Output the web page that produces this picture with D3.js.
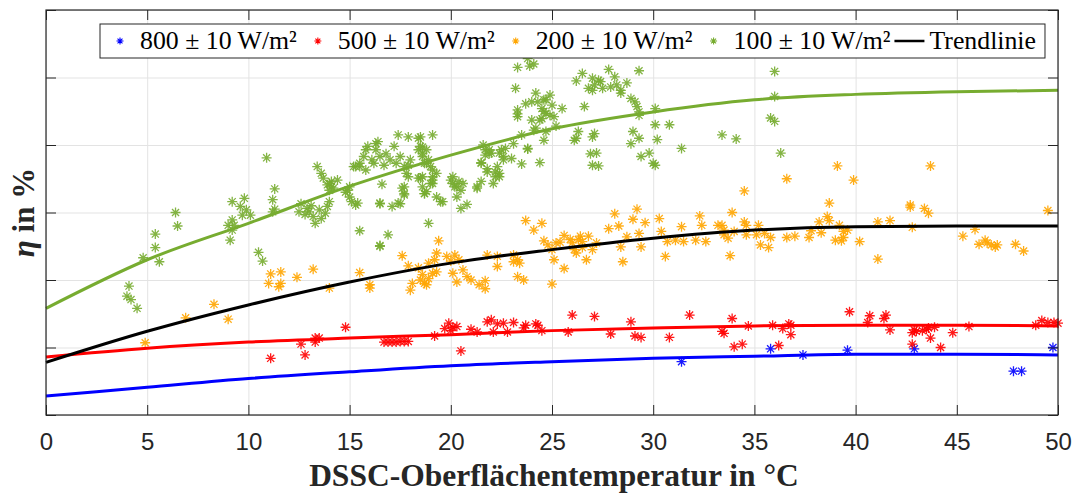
<!DOCTYPE html>
<html>
<head>
<meta charset="utf-8">
<script src="https://d3js.org/d3.v7.min.js"></script>
<style>
  body { margin: 0; background: #fff; }
</style>
</head>
<body>
<svg id="chart" width="1077" height="493"></svg>
<script>
  "use strict";

  // ---- data (temperature in °C, efficiency in axis units) ----
  const xTicks = [0, 5, 10, 15, 20, 25, 30, 35, 40, 45, 50];
  const yTicks = [0, 1, 2, 3, 4, 5, 6];
  const legendLabels = ["800 ± 10 W/m²", "500 ± 10 W/m²", "200 ± 10 W/m²", "100 ± 10 W/m²", "Trendlinie"];

  const trendT = [0, 5, 10, 15, 20, 25, 30, 35, 40, 45, 50];
  const trend800 = [0.28, 0.41, 0.54, 0.64, 0.73, 0.79, 0.84, 0.87, 0.90, 0.90, 0.89];
  const trend500 = [0.86, 0.99, 1.08, 1.14, 1.19, 1.25, 1.29, 1.32, 1.33, 1.33, 1.32];
  const trend200 = [0.78, 1.24, 1.63, 1.97, 2.25, 2.45, 2.62, 2.74, 2.79, 2.80, 2.80];
  const trend100 = [1.58, 2.30, 2.84, 3.39, 3.85, 4.24, 4.49, 4.67, 4.75, 4.79, 4.81];

  const pts800 = [[31.4,0.79],[35.8,0.98],[37.4,0.89],[39.6,0.96],[42.9,0.98],[47.8,0.65],[48.2,0.65],[49.75,1.0]];

  const pts500 = [[11.1,0.84],[12.6,1.05],[12.8,0.89],[13.3,1.14],[13.5,1.14],[13.3,1.08],[14.8,1.30],[16.7,1.08],[16.9,1.08],
    [17.1,1.08],[17.3,1.08],[17.5,1.09],[17.7,1.09],[17.9,1.09],[19.2,1.17],[19.7,1.28],[19.9,1.36],[20.1,1.30],[20.3,1.31],
    [20.0,1.25],[20.5,0.95],[21.0,1.27],[21.3,1.23],[21.8,1.38],[22.0,1.41],[22.1,1.23],[22.3,1.35],[22.6,1.36],[22.8,1.23],
    [23.1,1.37],[23.6,1.29],[23.7,1.33],[24.2,1.35],[24.3,1.33],[24.5,1.25],[25.8,1.23],[26.0,1.48],[27.1,1.46],[27.9,1.20],
    [28.9,1.38],[29.1,1.17],[29.4,1.15],[30.8,1.15],[31.8,1.48],[33.4,1.24],[33.5,1.21],[33.9,1.43],[34.0,1.01],[34.4,1.05],
    [34.7,1.32],[35.9,1.33],[36.2,1.03],[36.4,1.28],[36.7,1.35],[36.8,1.33],[36.8,1.19],[39.7,1.53],[40.6,1.37],[40.7,1.47],
    [41.4,1.43],[41.5,1.48],[41.7,1.26],[42.8,1.22],[42.9,1.26],[43.0,1.24],[43.3,1.25],[43.5,1.27],[43.6,1.29],[42.8,1.05],
    [43.7,1.14],[43.9,1.30],[44.2,1.00],[44.8,1.22],[45.6,1.31],[48.9,1.33],[49.2,1.40],[49.5,1.37],[49.8,1.37],[50.0,1.36]];

  const pts200 = [[4.9,1.07],[6.9,1.44],[8.3,1.64],[9.0,1.42],[11.0,1.95],[11.1,2.09],[11.5,1.90],[11.6,1.95],[11.6,2.12],
    [12.4,2.04],[13.2,2.16],[14.0,1.88],[15.5,2.11],[16.0,1.93],[16.0,1.88],[17.6,2.36],[17.9,2.21],[18.1,1.95],[18.0,1.85],
    [18.4,2.18],[18.6,2.08],[18.7,1.95],[18.9,2.02],[19.1,2.10],[18.9,2.25],[19.2,2.30],[19.3,2.12],[18.5,2.00],[18.8,1.93],
    [19.3,2.40],[19.4,2.58],[19.8,2.35],[20.0,2.28],[20.1,2.10],[20.3,1.97],[20.2,2.37],[20.4,2.30],[20.6,2.15],[20.8,2.05],
    [21.0,2.00],[21.4,1.93],[21.7,1.99],[21.7,1.87],[21.8,2.37],[22.3,2.35],[22.3,2.20],[23.1,2.37],[23.1,2.27],[23.3,2.30],
    [23.4,2.25],[23.3,2.05],[23.6,2.00],[23.7,2.88],[24.1,2.74],[24.5,2.84],[24.6,2.58],[24.8,2.52],[25.0,2.45],[25.2,2.55],
    [25.4,2.56],[25.0,1.94],[25.1,2.30],[25.6,2.17],[25.6,2.66],[25.9,2.60],[26.0,2.55],[26.1,2.45],[26.2,2.40],[26.3,2.60],
    [26.4,2.65],[26.5,2.57],[26.5,2.48],[26.7,2.30],[26.8,2.65],[27.0,2.45],[27.2,2.55],[27.8,2.76],[28.1,2.98],[28.3,2.80],
    [28.4,2.49],[28.5,2.27],[28.7,2.64],[29.0,2.90],[29.2,3.05],[29.3,2.69],[29.4,2.49],[29.6,2.85],[30.3,2.91],[30.4,2.72],
    [30.6,2.35],[30.7,2.57],[31.1,2.59],[31.4,2.79],[31.5,2.57],[32.1,2.59],[32.3,2.95],[32.4,2.81],[32.6,2.57],[33.2,2.81],
    [33.4,2.81],[33.5,2.74],[33.5,2.67],[33.7,2.62],[33.8,2.36],[33.9,3.00],[34.0,2.72],[34.5,3.32],[34.5,2.86],[34.6,2.81],
    [34.6,2.67],[35.1,2.67],[35.2,2.81],[35.3,2.52],[35.5,2.69],[35.7,2.48],[35.8,2.63],[36.6,3.50],[36.6,2.63],[37.0,2.65],
    [37.7,2.63],[37.8,2.73],[38.2,2.86],[38.3,2.70],[38.6,2.94],[38.7,2.88],[38.7,3.14],[39.1,3.69],[39.0,2.59],[39.2,2.81],
    [39.3,2.58],[39.4,2.72],[39.6,2.74],[39.4,2.63],[39.9,3.48],[40.2,2.57],[41.1,2.86],[41.1,2.31],[41.7,2.88],[42.7,3.11],
    [42.7,3.08],[42.8,2.78],[43.4,3.06],[43.6,2.99],[43.7,3.69],[45.3,2.65],[45.9,2.75],[46.1,2.53],[46.4,2.59],[46.5,2.55],
    [46.7,2.52],[46.9,2.49],[47.0,2.52],[47.9,2.53],[48.3,2.43],[49.5,3.03]];

  const pts100 = [[4.0,1.76],[4.1,1.91],[4.2,1.71],[4.5,1.58],[4.8,2.33],[5.4,2.48],[5.4,2.68],[5.6,2.27],[6.4,3.00],[6.5,2.80],
    [9.0,2.81],[9.1,2.59],[9.2,2.89],[9.2,2.74],[9.3,2.81],[9.2,3.16],[9.6,3.09],[9.8,3.21],[9.7,2.96],[9.9,3.04],[10.1,2.96],
    [10.5,2.41],[10.7,2.28],[10.9,3.81],[11.3,3.35],[11.2,3.19],[11.3,3.05],[11.2,3.01],
    [12.5,3.01],[12.6,3.13],[12.9,3.06],[13.0,3.01],[13.2,2.94],[13.3,2.84],[13.5,3.04],[13.6,2.91],[13.8,2.99],[13.9,3.09],
    [14.0,3.16],[13.4,3.68],[13.6,3.58],[13.7,3.51],[14.0,3.43],[14.2,3.36],[14.4,3.48],[14.1,3.38],[13.9,3.41],[14.1,3.46],
    [14.0,3.33],[12.8,2.97],[13.1,3.10],[14.9,3.33],[15.0,3.23],[15.1,3.16],[15.3,3.11],[15.4,3.14],[15.2,3.68],[15.5,3.68],
    [15.8,3.63],[16.2,3.73],[15.5,2.73],[14.8,3.30],[15.0,3.38],[15.3,3.68],[15.5,3.73],[15.7,3.83],[15.8,3.93],[15.9,3.98],
    [16.1,3.78],[16.3,4.02],[16.3,3.93],[16.4,4.05],[16.5,3.83],[16.7,3.70],[16.8,3.87],[17.0,3.78],[17.2,3.98],[17.3,3.73],
    [17.5,3.83],[17.7,3.68],[17.9,3.70],[18.0,3.78],[16.5,2.51],[16.5,3.14],[16.5,2.50],[16.9,2.67],[16.6,3.42],[17.1,3.09],
    [16.5,3.13],[17.4,3.14],[17.6,3.36],[17.7,3.26],[17.9,3.53],[18.4,3.51],[18.6,3.53],[18.7,3.28],[18.9,2.84],[19.3,3.23],
    [19.5,3.16],[19.0,3.43],[19.1,3.48],[17.4,4.15],[17.9,4.12],[18.5,4.12],[19.1,4.15],[18.4,3.93],[18.6,3.83],[18.8,3.73],
    [18.6,3.97],[18.4,4.10],[18.5,3.98],[18.6,3.88],[18.7,3.73],[18.8,3.93],[18.9,3.78],[19.0,3.68],[19.1,3.63],[19.3,3.58],
    [19.1,3.53],[19.1,3.43],[18.7,3.28],[18.8,3.31],[18.5,3.51],[18.6,3.38],[17.8,3.58],[17.7,3.38],[17.7,3.28],[17.5,3.13],
    [19.6,3.16],[20.1,3.53],[20.2,3.38],[20.4,3.46],[20.5,3.33],[20.3,3.23],[20.5,3.06],[20.8,3.12],[20.0,3.48],[20.1,3.43],
    [20.3,3.38],[20.6,3.43],[21.3,3.38],[21.5,3.46],[21.5,3.73],[21.7,3.85],[21.9,3.93],[21.7,3.93],[22.0,3.88],[22.4,3.88],
    [22.5,3.93],[22.7,3.95],[22.6,3.83],[23.0,3.80],[22.2,3.60],[22.4,3.58],[22.4,3.53],[21.8,3.65],[23.5,3.72],[24.4,3.74],
    [21.9,3.87],[21.6,4.00],[21.5,3.74],[22.2,3.53],[22.3,3.68],[22.1,3.43],[21.3,3.36],[21.8,3.60],[22.6,3.78],[23.1,4.02],
    [23.5,4.15],[23.8,3.95],[24.1,4.22],[24.2,4.25],[24.0,4.37],[24.4,4.37],[24.5,4.39],[24.7,4.20],[24.6,4.07],[25.2,4.28],
    [24.7,4.47],[24.9,4.44],[25.1,4.42],[24.5,4.54],[25.0,4.59],[24.3,4.64],[24.9,4.74],[25.5,4.54],[24.7,4.67],[24.6,4.50],
    [23.3,4.52],[23.3,4.42],[23.2,4.84],[23.3,4.46],[23.3,5.15],[23.9,5.17],[24.1,5.20],[23.8,5.28],[23.7,4.61],[24.0,4.64],
    [24.2,4.77],[24.6,4.67],[23.8,3.94],[26.2,4.95],[26.5,5.06],[27.0,4.99],[27.1,4.89],[27.3,4.96],[27.4,4.94],[27.5,4.84],
    [27.0,4.81],[26.8,4.84],[27.8,5.12],[28.1,5.01],[27.9,4.86],[28.2,4.89],[28.4,4.81],[28.4,4.77],[28.7,4.92],[29.3,5.10],
    [28.9,4.69],[29.1,4.64],[29.2,4.57],[29.3,4.49],[29.3,4.44],[26.6,4.57],[27.1,4.17],[27.0,4.12],[26.3,4.20],[26.1,4.07],
    [26.2,4.10],[29.0,4.20],[29.3,4.10],[28.9,4.02],[29.4,3.83],[29.8,3.88],[30.0,3.73],[30.1,3.70],[26.9,3.87],[27.2,3.88],
    [27.0,3.70],[27.3,3.69],[30.1,4.54],[30.1,4.30],[30.2,4.08],[30.8,4.30],[31.4,3.95],[33.4,4.15],[34.1,4.09],[36.0,5.09],
    [36.0,4.72],[35.8,4.40],[36.0,4.35],[36.3,3.88]];

  // ---- layout ----
  const WIDTH = 1077, HEIGHT = 493;
  const PLOT_LEFT = 46, PLOT_RIGHT = 1058, PLOT_TOP = 10, PLOT_BOTTOM = 415;
  const AXIS_COLOR = "#262626";
  const GRID_COLOR = "#e3e3e3";
  const TICK_LEN = 10;

  const series = [
    { pts: pts800, trend: trend800, color: "#0000ff", trendColor: "#0000ff" },
    { pts: pts500, trend: trend500, color: "#ff0000", trendColor: "#ff0000" },
    { pts: pts200, trend: trend200, color: "#ffa500", trendColor: "#000000" },
    { pts: pts100, trend: trend100, color: "#77ac30", trendColor: "#77ac30" }
  ];

  const x = d3.scaleLinear().domain([0, 50]).range([PLOT_LEFT, PLOT_RIGHT]);
  const y = d3.scaleLinear().domain([0, 6]).range([PLOT_BOTTOM, PLOT_TOP]);

  const svg = d3.select("#chart");
  svg.append("rect").attr("width", WIDTH).attr("height", HEIGHT).attr("fill", "#fff");

  // asterisk marker like MATLAB '*'
  const star = (r) => {
    const a = r * 0.7071;
    return `M${-r},0H${r}M0,${-r}V${r}M${-a},${-a}L${a},${a}M${-a},${a}L${a},${-a}`;
  };

  // Grid
  svg.append("g")
    .attr("transform", `translate(0,${PLOT_BOTTOM})`)
    .call(d3.axisBottom(x).tickValues(xTicks).tickSize(-(PLOT_BOTTOM - PLOT_TOP)).tickFormat(""))
    .call(g => g.select(".domain").remove())
    .call(g => g.selectAll("line").attr("stroke", GRID_COLOR));
  svg.append("g")
    .attr("transform", `translate(${PLOT_LEFT},0)`)
    .call(d3.axisLeft(y).tickValues(yTicks).tickSize(-(PLOT_RIGHT - PLOT_LEFT)).tickFormat(""))
    .call(g => g.select(".domain").remove())
    .call(g => g.selectAll("line").attr("stroke", GRID_COLOR));

  // Scatter points
  series.forEach(s => {
    svg.append("g")
      .selectAll("path")
      .data(s.pts)
      .enter()
      .append("path")
      .attr("d", star(5))
      .attr("transform", d => `translate(${x(d[0])},${y(d[1])})`)
      .attr("fill", "none")
      .attr("stroke", s.color)
      .attr("stroke-width", 1.3)
      .attr("stroke-opacity", 0.9);
  });

  // Trend lines
  const line = d3.line()
    .x((d, i) => x(trendT[i]))
    .y(d => y(d))
    .curve(d3.curveMonotoneX);
  series.forEach(s => {
    svg.append("path")
      .attr("d", line(s.trend))
      .attr("fill", "none")
      .attr("stroke", s.trendColor)
      .attr("stroke-width", 3);
  });

  // Axes with inward ticks on all four sides
  const styleAxis = g => {
    g.select(".domain").remove();
    g.selectAll("line").attr("stroke", AXIS_COLOR);
    g.selectAll("text")
      .attr("fill", AXIS_COLOR)
      .style("font-family", "'Liberation Sans', Arial, sans-serif")
      .style("font-size", "24px");
  };
  svg.append("g")
    .attr("transform", `translate(0,${PLOT_BOTTOM})`)
    .call(d3.axisBottom(x).tickValues(xTicks).tickSizeInner(-TICK_LEN).tickSizeOuter(0).tickPadding(18))
    .call(styleAxis);
  svg.append("g")
    .attr("transform", `translate(0,${PLOT_TOP})`)
    .call(d3.axisTop(x).tickValues(xTicks).tickSizeInner(-TICK_LEN).tickSizeOuter(0).tickFormat(""))
    .call(styleAxis);
  svg.append("g")
    .attr("transform", `translate(${PLOT_LEFT},0)`)
    .call(d3.axisLeft(y).tickValues(yTicks).tickSizeInner(-TICK_LEN).tickSizeOuter(0).tickFormat(""))
    .call(styleAxis);
  svg.append("g")
    .attr("transform", `translate(${PLOT_RIGHT},0)`)
    .call(d3.axisRight(y).tickValues(yTicks).tickSizeInner(-TICK_LEN).tickSizeOuter(0).tickFormat(""))
    .call(styleAxis);

  // Frame
  svg.append("rect")
    .attr("x", PLOT_LEFT)
    .attr("y", PLOT_TOP)
    .attr("width", PLOT_RIGHT - PLOT_LEFT)
    .attr("height", PLOT_BOTTOM - PLOT_TOP)
    .attr("fill", "none")
    .attr("stroke", AXIS_COLOR)
    .attr("stroke-width", 1.2);

  // Axis titles
  svg.append("text")
    .attr("x", (PLOT_LEFT + PLOT_RIGHT) / 2 + 2)
    .attr("y", 486)
    .attr("text-anchor", "middle")
    .attr("fill", AXIS_COLOR)
    .style("font-family", "'Liberation Serif', 'Times New Roman', serif")
    .style("font-weight", "bold")
    .style("font-size", "31.5px")
    .text("DSSC-Oberflächentemperatur in °C");

  const yTitle = svg.append("text")
    .attr("transform", `translate(34,${(PLOT_TOP + PLOT_BOTTOM) / 2}) rotate(-90)`)
    .attr("text-anchor", "middle")
    .attr("fill", AXIS_COLOR)
    .style("font-family", "'Liberation Serif', 'Times New Roman', serif")
    .style("font-weight", "bold")
    .style("font-size", "31px");
  yTitle.append("tspan").style("font-style", "italic").text("η");
  yTitle.append("tspan").text(" in %");

  // Legend
  const LEG_LEFT = 100, LEG_TOP = 24, LEG_H = 34;
  const legend = svg.append("g");
  const legBox = legend.append("rect")
    .attr("x", LEG_LEFT)
    .attr("y", LEG_TOP)
    .attr("height", LEG_H)
    .attr("fill", "#fff")
    .attr("stroke", AXIS_COLOR)
    .attr("stroke-width", 1);
  const midY = LEG_TOP + LEG_H / 2;
  let cursor = LEG_LEFT + 20;
  legendLabels.forEach((label, i) => {
    let textX;
    if (i < series.length) {
      legend.append("path")
        .attr("d", star(3.5))
        .attr("transform", `translate(${cursor},${midY})`)
        .attr("fill", "none")
        .attr("stroke", series[i].color)
        .attr("stroke-width", 1.1);
      textX = cursor + 20;
    } else {
      legend.append("line")
        .attr("x1", cursor - 17).attr("x2", cursor + 13)
        .attr("y1", midY).attr("y2", midY)
        .attr("stroke", "#000")
        .attr("stroke-width", 2.5);
      textX = cursor + 18;
    }
    const t = legend.append("text")
      .attr("x", textX)
      .attr("y", midY + 8)
      .attr("fill", "#000")
      .style("font-family", "'Liberation Serif', 'Times New Roman', serif")
      .style("font-size", "25.8px")
      .text(label);
    cursor = textX + t.node().getComputedTextLength() + 21;
  });
  legBox.attr("width", cursor - 21 + 9 - LEG_LEFT);
</script>
</body>
</html>
